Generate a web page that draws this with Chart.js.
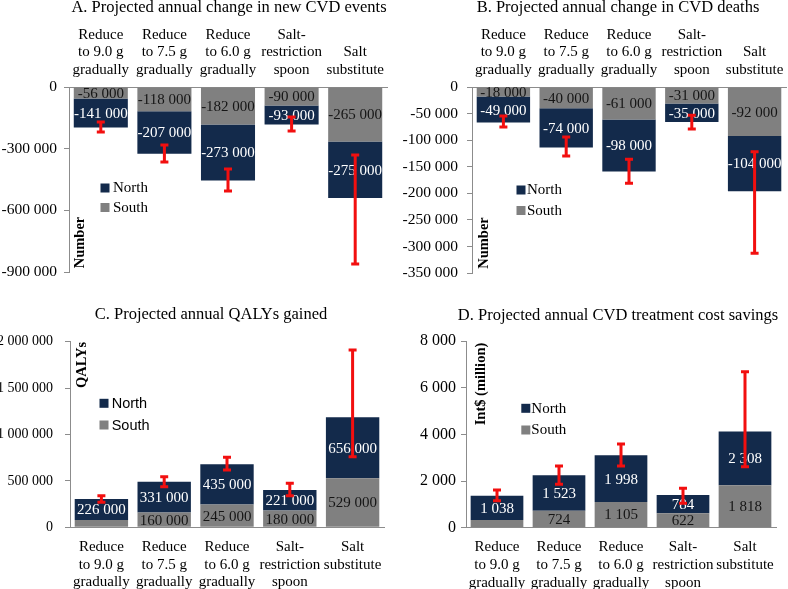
<!DOCTYPE html>
<html><head><meta charset="utf-8">
<script src="https://cdn.jsdelivr.net/npm/chart.js@4.4.0/dist/chart.umd.min.js"></script>
<style>
html,body{margin:0;padding:0;background:#fff;}
#wrap{position:relative;width:788px;height:589px;overflow:hidden;background:#fff;}
.p{position:absolute;}
canvas{display:block;}
</style></head><body>
<div id="wrap">
<div class="p" style="left:0;top:0"><canvas id="cA" width="394" height="290"></canvas></div>
<div class="p" style="left:394px;top:0"><canvas id="cB" width="394" height="290"></canvas></div>
<div class="p" style="left:0;top:290px"><canvas id="cC" width="394" height="299"></canvas></div>
<div class="p" style="left:394px;top:290px"><canvas id="cD" width="394" height="299"></canvas></div>
</div>
<script>
// ---------- data ----------
const categories = [["Reduce","to 9.0 g","gradually"],["Reduce","to 7.5 g","gradually"],["Reduce","to 6.0 g","gradually"],["Salt-","restriction","spoon"],["Salt","substitute"]];
const seriesNames = ["North", "South"];

// A. new CVD events
const eventsSouth = [-56000, -118000, -182000, -90000, -265000];
const eventsNorth = [-141000, -207000, -273000, -93000, -275000];
const eventsErrLow = [-219000, -365000, -506000, -214000, -861000];
const eventsErrHigh = [-170000, -282000, -399000, -146000, -331000];
const eventsTicks = [0, -300000, -600000, -900000];

// B. CVD deaths
const deathsSouth = [-18000, -40000, -61000, -31000, -92000];
const deathsNorth = [-49000, -74000, -98000, -35000, -104000];
const deathsErrLow = [-75500, -130000, -181000, -79000, -313000];
const deathsErrHigh = [-54700, -94000, -136000, -53000, -122000];
const deathsTicks = [0, -50000, -100000, -150000, -200000, -250000, -300000, -350000];

// C. QALYs gained
const qalySouth = [79000, 160000, 245000, 180000, 529000];
const qalyNorth = [226000, 331000, 435000, 221000, 656000];
const qalyErrLow = [269000, 437000, 617000, 340000, 761000];
const qalyErrHigh = [340000, 545000, 754000, 474000, 1911000];
const qalyTicks = [0, 500000, 1000000, 1500000, 2000000];

// D. treatment cost savings (Int$ million)
const costSouth = [335, 724, 1105, 622, 1818];
const costNorth = [1038, 1523, 1998, 784, 2308];
const costErrLow = [1157, 1860, 2644, 1046, 2614];
const costErrHigh = [1615, 2644, 3587, 1688, 6685];
const costTicks = [0, 2000, 4000, 6000, 8000];

// ---------- styling ----------
const SERIF = '"Liberation Serif","Times New Roman",serif';
const SANS = '"Liberation Sans",Arial,sans-serif';
const NORTH_COLOR = '#132a4b', SOUTH_COLOR = '#808080', ERR_COLOR = '#f20f0f', AXIS_COLOR = '#8c8c8c';

function fmt(v){
  const a = Math.round(Math.abs(v)).toString().replace(/\B(?=(\d{3})+(?!\d))/g, ' ');
  return (v < 0 ? '-' : '') + a;
}

function makePanel(id, p){
  const W = p.W, H = p.H;
  const deco = {
    id: 'deco' + id,
    afterDatasetsDraw(chart){
      const ctx = chart.ctx;
      const ys = chart.scales.y;
      ctx.save();
      // segment value labels
      [0, 1].forEach(di => {
        const meta = chart.getDatasetMeta(di);
        const vals = chart.data.datasets[di].data;
        meta.data.forEach((el, i) => {
          const pr = el.getProps(['x', 'y', 'base'], true);
          if (Math.abs(pr.base - pr.y) < 8.5) return;
          ctx.font = '15px ' + SERIF;
          ctx.fillStyle = di === 1 ? '#ffffff' : '#151515';
          ctx.textAlign = 'center';
          ctx.textBaseline = 'middle';
          ctx.fillText(fmt(vals[i]), pr.x, (pr.y + pr.base) / 2 + 1);
        });
      });
      // error bars
      const m0 = chart.getDatasetMeta(0);
      ctx.strokeStyle = ERR_COLOR;
      ctx.lineWidth = 3;
      m0.data.forEach((el, i) => {
        const x = el.x;
        const y1 = ys.getPixelForValue(p.errLow[i]);
        const y2 = ys.getPixelForValue(p.errHigh[i]);
        ctx.beginPath();
        ctx.moveTo(x, y1); ctx.lineTo(x, y2);
        ctx.moveTo(x - 4, y1); ctx.lineTo(x + 4, y1);
        ctx.moveTo(x - 4, y2); ctx.lineTo(x + 4, y2);
        ctx.stroke();
      });
      // title
      ctx.fillStyle = '#000';
      ctx.font = '16.5px ' + SERIF;
      ctx.textAlign = 'center';
      ctx.textBaseline = 'middle';
      ctx.fillText(p.title, p.titleX, p.titleY);
      // axis title (rotated, inside plot)
      ctx.save();
      ctx.translate(p.axX, p.axY);
      ctx.rotate(-Math.PI / 2);
      ctx.font = 'bold 14.5px ' + SERIF;
      ctx.textAlign = 'center';
      ctx.textBaseline = 'middle';
      ctx.fillText(p.axisTitle, 0, 0);
      ctx.restore();
      // legend
      const ds = chart.data.datasets;
      const legendItems = [[ds[1].label, NORTH_COLOR, p.legYN], [ds[0].label, SOUTH_COLOR, p.legYS]];
      legendItems.forEach(([txt, col, yy]) => {
        ctx.fillStyle = col;
        ctx.fillRect(p.legSX, yy - 4.5, 9, 9);
        ctx.fillStyle = '#000';
        ctx.font = p.legFont;
        ctx.textAlign = 'left';
        ctx.textBaseline = 'middle';
        ctx.fillText(txt, p.legTX, yy + 0.5);
      });
      ctx.restore();
    }
  };

  const zeroPad = s => { s.paddingLeft = 0; s.paddingRight = 0; s.paddingTop = 0; s.paddingBottom = 0; };

  new Chart(document.getElementById(id), {
    type: 'bar',
    data: {
      labels: categories,
      datasets: [
        { label: seriesNames[1], data: p.south, backgroundColor: SOUTH_COLOR, borderWidth: 0 },
        { label: seriesNames[0], data: p.north, backgroundColor: NORTH_COLOR, borderWidth: 0 }
      ]
    },
    options: {
      responsive: false,
      animation: false,
      devicePixelRatio: 1,
      layout: { padding: {
        left: 0,
        right: W - p.right,
        top: p.topAxis ? 0 : p.top,
        bottom: p.topAxis ? H - p.bottom : 0
      } },
      plugins: { legend: { display: false }, tooltip: { enabled: false }, title: { display: false } },
      datasets: { bar: { categoryPercentage: 1, barPercentage: 0.85 } },
      scales: {
        x: {
          stacked: true,
          position: p.topAxis ? 'top' : 'bottom',
          afterFit: s => { s.height = p.topAxis ? p.top : H - p.bottom; zeroPad(s); },
          border: { display: true, color: AXIS_COLOR, width: 1 },
          grid: { display: false },
          ticks: { font: { family: SERIF, size: 15, lineHeight: 1.18 }, color: '#000', padding: p.topAxis ? 0 : 3, maxRotation: 0, minRotation: 0, autoSkip: false }
        },
        y: {
          stacked: true,
          min: p.min, max: p.max,
          afterBuildTicks: s => { s.ticks = p.ticks.map(v => ({ value: v })); },
          afterFit: s => { s.width = p.left; zeroPad(s); },
          border: { display: true, color: AXIS_COLOR, width: 1 },
          grid: { display: true, drawOnChartArea: false, drawTicks: true, tickLength: 5, color: AXIS_COLOR },
          ticks: { font: { family: SERIF, size: p.tickSize }, color: '#000', padding: p.tickPad, callback: v => fmt(v) }
        }
      }
    },
    plugins: [deco]
  });
}

makePanel('cA', {
  W: 394, H: 290, topAxis: true, left: 69, right: 387, top: 87, bottom: 272, tickPad: 7, tickSize: 15.5,
  south: eventsSouth, north: eventsNorth, errLow: eventsErrLow, errHigh: eventsErrHigh,
  min: -900000, max: 0, ticks: eventsTicks,
  title: 'A. Projected annual change in new CVD events', titleX: 229, titleY: 8,
  axisTitle: 'Number', axX: 80, axY: 242.5,
  legSX: 100.5, legTX: 113, legYN: 188, legYS: 207.5, legFont: '15px ' + SERIF
});
makePanel('cB', {
  W: 394, H: 290, topAxis: true, left: 78, right: 392, top: 87, bottom: 273, tickPad: 9, tickSize: 15.5,
  south: deathsSouth, north: deathsNorth, errLow: deathsErrLow, errHigh: deathsErrHigh,
  min: -350000, max: 0, ticks: deathsTicks,
  title: 'B. Projected annual change in CVD deaths', titleX: 224, titleY: 8,
  axisTitle: 'Number', axX: 90, axY: 243,
  legSX: 122.5, legTX: 133, legYN: 190, legYS: 210.5, legFont: '15px ' + SERIF
});
makePanel('cC', {
  W: 394, H: 299, topAxis: false, left: 70, right: 384, top: 51.7, bottom: 237.3, tickPad: 12, tickSize: 14,
  south: qalySouth, north: qalyNorth, errLow: qalyErrLow, errHigh: qalyErrHigh,
  min: 0, max: 2000000, ticks: qalyTicks,
  title: 'C. Projected annual QALYs gained', titleX: 211, titleY: 25,
  axisTitle: 'QALYs', axX: 82.7, axY: 75,
  legSX: 99.5, legTX: 111.7, legYN: 113.3, legYS: 135, legFont: '14.5px ' + SANS
});
makePanel('cD', {
  W: 394, H: 299, topAxis: false, left: 72, right: 382, top: 51, bottom: 237.7, tickPad: 5, tickSize: 16,
  south: costSouth, north: costNorth, errLow: costErrLow, errHigh: costErrHigh,
  min: 0, max: 8000, ticks: costTicks,
  title: 'D. Projected annual CVD treatment cost savings', titleX: 224, titleY: 26,
  axisTitle: 'Int$ (million)', axX: 87.3, axY: 94,
  legSX: 127.3, legTX: 137.3, legYN: 118.3, legYS: 140, legFont: '15px ' + SERIF
});
</script>
</body></html>
